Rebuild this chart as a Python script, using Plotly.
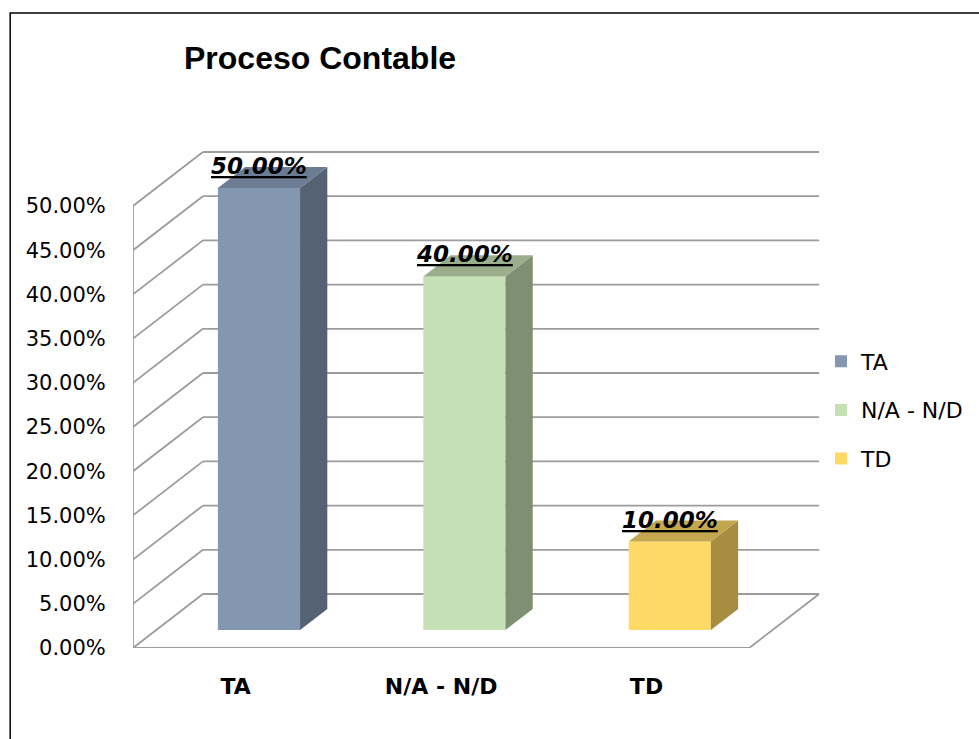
import plotly.graph_objects as go

# ---------------- data ----------------
categories = ["TA", "N/A - N/D", "TD"]
values = [0.50, 0.40, 0.10]
tick_values = [0.00, 0.05, 0.10, 0.15, 0.20, 0.25, 0.30, 0.35, 0.40, 0.45, 0.50]
front_colors = ["#8497B0", "#C5E0B4", "#FFD966"]
side_colors = ["#556275", "#7F8F72", "#A68D40"]
top_colors = ["#6C7C92", "#9AAE8C", "#C4A64F"]
title_text = "Proceso Contable"

# ---------------- layout geometry ----------------
W, H = 979, 739
L_PX, R_PX = 133, 830      # plot area left / right (px)
T_PX, B_PX = 100, 648      # plot area top / bottom (px)
CAT_PX = 205.7             # px per category
VAL_PX = 884.0             # px per 1.0 (100%)
X0 = -0.5
X_MAX = X0 + (R_PX - L_PX) / CAT_PX
Y_MAX = (B_PX - T_PX) / VAL_PX

# oblique depth of the "3D" box (in data units)
DX = 70 / CAT_PX
DY = 54 / VAL_PX
F_FRONT = 0.333            # depth fraction of bar front face
F_DEPTH = 0.39             # depth fraction of bar thickness
BAR_W = 0.40
n = len(categories)
X_END = X0 + n

sx, sy = F_FRONT * DX, F_FRONT * DY
bdx, bdy = F_DEPTH * DX, F_DEPTH * DY

def px_to_paper_x(px):
    return (px - L_PX) / (R_PX - L_PX)

def px_to_paper_y(py):
    return (B_PX - py) / (B_PX - T_PX)

GRID = dict(color="#9C9C9C", width=1.8)

fig = go.Figure()

# walls / floor (below traces)
shapes = []
for t in tick_values:
    shapes.append(dict(type="line", xref="x", yref="y", layer="below",
                       x0=X0, y0=t, x1=X0 + DX, y1=t + DY, line=GRID))
    shapes.append(dict(type="line", xref="x", yref="y", layer="below",
                       x0=X0 + DX, y0=t + DY, x1=X_END + DX, y1=t + DY, line=GRID))
shapes.append(dict(type="line", xref="x", yref="y", layer="below",
                   x0=X0, y0=0, x1=X_END, y1=0, line=GRID))
shapes.append(dict(type="line", xref="x", yref="y", layer="below",
                   x0=X_END, y0=0, x1=X_END + DX, y1=DY, line=GRID))
shapes.append(dict(type="line", xref="x", yref="y", layer="below",
                   x0=X0, y0=0, x1=X0, y1=max(tick_values), line=GRID))

# outer chart border
shapes.append(dict(type="rect", xref="paper", yref="paper", layer="above",
                   x0=px_to_paper_x(10), y0=px_to_paper_y(745),
                   x1=px_to_paper_x(990), y1=px_to_paper_y(13),
                   line=dict(color="#000000", width=1.5)))

annotations = []
for i, (cat, v) in enumerate(zip(categories, values)):
    xl = i + sx - BAR_W / 2
    xr = i + sx + BAR_W / 2
    # front face: real bar
    fig.add_trace(go.Bar(
        x=[i], y=[v], base=[sy], width=[BAR_W], offset=[sx - BAR_W / 2],
        name=cat, legendgroup=cat, marker=dict(color=front_colors[i], line=dict(width=0)),
        hovertemplate=f"{cat}: %{{y:.2%}}<extra></extra>",
    ))
    # side face
    fig.add_trace(go.Scatter(
        x=[xr, xr + bdx, xr + bdx, xr, xr],
        y=[sy, sy + bdy, v + sy + bdy, v + sy, sy],
        mode="lines", fill="toself", fillcolor=side_colors[i],
        line=dict(width=0, color=side_colors[i]), showlegend=False, hoverinfo="skip",
    ))
    # top face
    fig.add_trace(go.Scatter(
        x=[xl, xr, xr + bdx, xl + bdx, xl],
        y=[v + sy, v + sy, v + sy + bdy, v + sy + bdy, v + sy],
        mode="lines", fill="toself", fillcolor=top_colors[i],
        line=dict(width=0, color=top_colors[i]), showlegend=False, hoverinfo="skip",
    ))
    annotations.append(dict(
        x=i + sx, y=v + sy, xref="x", yref="y", yanchor="bottom", yshift=7,
        text=f"<u><b><i>{v:.2%}</i></b></u>", showarrow=False,
        font=dict(family="DejaVu Sans", size=23, color="#000000"),
    ))

fig.update_layout(
    width=W, height=H,
    margin=dict(l=L_PX, r=W - R_PX, t=T_PX, b=H - B_PX, pad=0),
    paper_bgcolor="#FFFFFF", plot_bgcolor="rgba(0,0,0,0)",
    barmode="overlay",
    showlegend=True,
    title=dict(text=f"<b>{title_text}</b>", xref="container", yref="container",
               x=184 / W, xanchor="left", y=1 - 58 / H, yanchor="middle",
               font=dict(family="Liberation Sans", size=32, color="#000000")),
    xaxis=dict(range=[X0, X_MAX], tickmode="array", tickvals=list(range(n)),
               ticktext=[f"<b>{c}</b>" for c in categories],
               showgrid=False, zeroline=False, showline=False,
               ticks="outside", ticklen=19, tickcolor="rgba(0,0,0,0)",
               tickfont=dict(family="DejaVu Sans", size=22, color="#000000"),
               fixedrange=True),
    yaxis=dict(range=[0, Y_MAX], tickmode="array", tickvals=tick_values,
               tickformat=".2%", showgrid=False, zeroline=False, showline=False,
               ticks="outside", ticklen=22, tickcolor="rgba(0,0,0,0)",
               tickfont=dict(family="DejaVu Sans", size=21, color="#000000"),
               fixedrange=True),
    legend=dict(x=px_to_paper_x(821), xanchor="left",
                y=px_to_paper_y(410), yanchor="middle",
                font=dict(family="DejaVu Sans", size=22, color="#000000"),
                tracegroupgap=17, bgcolor="rgba(0,0,0,0)"),
    shapes=shapes,
    annotations=annotations,
    font=dict(family="DejaVu Sans"),
)

fig.write_html("out.html")
